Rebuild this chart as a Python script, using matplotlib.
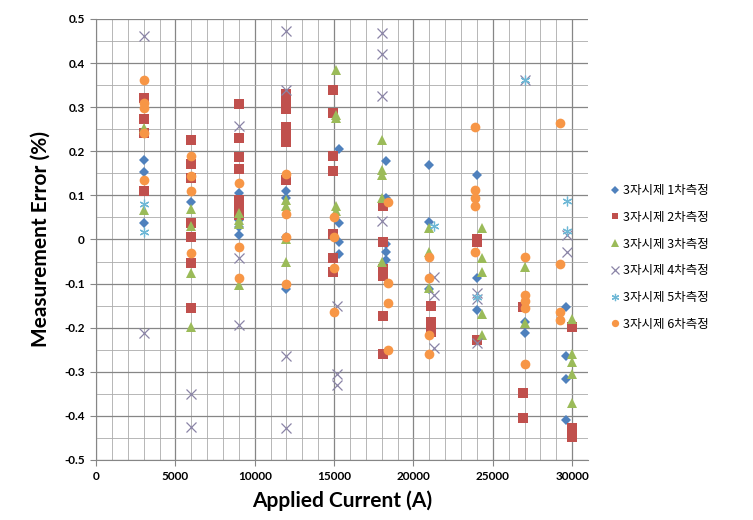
import matplotlib
matplotlib.use("Agg")
import matplotlib.pyplot as plt
from matplotlib.ticker import MultipleLocator, FixedLocator

# ---------------- data ----------------
labels = ["3자시제 1차측정", "3자시제 2차측정", "3자시제 3차측정",
          "3자시제 4차측정", "3자시제 5차측정", "3자시제 6차측정"]

s1_x = [3000]*3 + [6000]*2 + [9000]*5 + [12000]*4 + [15300]*4 + [18300]*5 + [21000]*3 + [24000]*3 + [27000]*2 + [29600]*4
s1_y = [0.181, 0.154, 0.037,
        0.084, 0.030,
        0.106, 0.085, 0.045, 0.029, 0.010,
        0.110, 0.095, 0.005, -0.113,
        0.205, 0.037, -0.005, -0.033,
        0.179, 0.094, -0.010, -0.028, -0.047,
        0.169, 0.040, -0.113,
        0.147, -0.088, -0.159,
        -0.187, -0.212,
        -0.154, -0.264, -0.316, -0.409]

s2_x = [3000]*4 + [6000]*7 + [9000]*7 + [12000]*7 + [14900]*7 + [18100]*6 + [21100]*3 + [24000]*3 + [26900]*3 + [30000]*3
s2_y = [0.321, 0.274, 0.241, 0.110,
        0.225, 0.172, 0.140, 0.037, 0.006, -0.053, -0.155,
        0.307, 0.230, 0.188, 0.160, 0.090, 0.070, 0.055,
        0.330, 0.310, 0.295, 0.255, 0.235, 0.220, 0.135,
        0.340, 0.287, 0.190, 0.156, 0.012, -0.043, -0.073,
        0.076, -0.005, -0.067, -0.083, -0.174, -0.260,
        -0.151, -0.187, -0.210,
        0.000, -0.005, -0.227,
        -0.154, -0.347, -0.405,
        -0.198, -0.428, -0.448]

s3_x = [3000]*2 + [6000]*4 + [9000]*4 + [12000]*4 + [15100]*5 + [18000]*5 + [21000]*3 + [24300]*5 + [27000]*2 + [30000]*5
s3_y = [0.253, 0.067,
        0.069, 0.030, -0.077, -0.198,
        0.060, 0.045, 0.035, -0.103,
        0.090, 0.075, 0.000, -0.050,
        0.385, 0.283, 0.275, 0.075, 0.065,
        0.226, 0.158, 0.147, 0.094, -0.050,
        0.025, -0.028, -0.111,
        0.025, -0.043, -0.073, -0.168, -0.217,
        -0.062, -0.190,
        -0.180, -0.259, -0.278, -0.304, -0.371]

s4_x = [3000]*2 + [6000]*2 + [9000]*3 + [12000]*4 + [15200]*3 + [18000]*4 + [21300]*3 + [24000]*3 + [27000] + [29700]*2
s4_y = [0.461, -0.212,
        -0.350, -0.425,
        0.258, -0.043, -0.194,
        0.472, 0.340, -0.265, -0.427,
        -0.150, -0.304, -0.331,
        0.469, 0.421, 0.325, 0.043,
        -0.085, -0.125, -0.247,
        -0.122, -0.134, -0.235,
        0.362,
        0.010, -0.028]

s5_x = [3000]*2 + [21300, 24000, 27000, 29700, 29700]
s5_y = [0.080, 0.017, 0.030, -0.130, 0.362, 0.088, 0.020]

s6_x = [3000]*5 + [6000]*4 + [9000]*3 + [12000]*4 + [15000]*4 + [18400]*4 + [21000]*4 + [23900]*5 + [27000]*5 + [29200]*4
s6_y = [0.361, 0.310, 0.298, 0.241, 0.135,
        0.190, 0.143, 0.109, -0.031,
        0.128, -0.016, -0.088,
        0.148, 0.057, 0.006, -0.100,
        0.052, 0.006, -0.065, -0.164,
        0.084, -0.098, -0.144, -0.251,
        -0.040, -0.088, -0.217, -0.259,
        0.254, 0.113, 0.094, 0.075, -0.028,
        -0.040, -0.125, -0.140, -0.155, -0.283,
        0.264, -0.056, -0.164, -0.183]

x_ticks = [0, 5000, 10000, 15000, 20000, 25000, 30000]
y_ticks = [-0.5, -0.4, -0.3, -0.2, -0.1, 0, 0.1, 0.2, 0.3, 0.4, 0.5]
y_tick_labels = ["-0.5", "-0.4", "-0.3", "-0.2", "-0.1", "0", "0.1", "0.2", "0.3", "0.4", "0.5"]

# ---------------- plot ----------------
plt.rcParams['font.family'] = ['Lato', 'Noto Sans CJK KR', 'DejaVu Sans']

fig = plt.figure(figsize=(7.53, 5.20), dpi=100)
ax = fig.add_axes([0.1275, 0.1154, 0.6535, 0.8481])

series = [
    (s1_x, s1_y, dict(marker='D', color='#4F81BD', markersize=5.2, markeredgewidth=0)),
    (s2_x, s2_y, dict(marker='s', color='#C0504D', markersize=6.5, markeredgewidth=0)),
    (s3_x, s3_y, dict(marker='^', color='#9BBB59', markersize=7, markeredgewidth=0)),
    (s4_x, s4_y, dict(marker='x', color='#8A84A6', markersize=7.5, markeredgewidth=0.9)),
    (s5_x, s5_y, dict(marker=(6, 2, 0), color='#6FB8D6', markersize=7, markeredgewidth=0.9)),
    (s6_x, s6_y, dict(marker='o', color='#F79646', markersize=7, markeredgewidth=0)),
]
for (xs, ys, st), lab in zip(series, labels):
    ax.plot(xs, ys, linestyle='none', label=lab, zorder=3, **st)

ax.set_xlim(0, 31000)
ax.set_ylim(-0.5, 0.5)
ax.xaxis.set_major_locator(FixedLocator(x_ticks))
ax.xaxis.set_minor_locator(MultipleLocator(1000))
ax.yaxis.set_major_locator(FixedLocator(y_ticks))
ax.yaxis.set_minor_locator(MultipleLocator(0.05))
ax.set_yticklabels(y_tick_labels)
ax.set_xticklabels([str(v) for v in x_ticks])

ax.grid(which='major', color='#868686', linewidth=0.9, zorder=0)
ax.grid(which='minor', color='#ABABAB', linewidth=0.6, zorder=0)
ax.set_axisbelow(True)

for s in ['top', 'right']:
    ax.spines[s].set_visible(False)
ax.spines['left'].set_color('#868686')
ax.spines['bottom'].set_color('#868686')

ax.tick_params(which='major', length=4, color='#868686', labelsize=8.5, pad=4)
ax.tick_params(which='minor', length=0)
for lbl in ax.get_xticklabels() + ax.get_yticklabels():
    lbl.set_fontweight('bold')

ax.set_xlabel('Applied Current (A)', fontsize=15, fontweight='bold', labelpad=6)
ax.set_ylabel('Measurement Error (%)', fontsize=15, fontweight='bold', labelpad=10)

leg = fig.legend(loc='center left', bbox_to_anchor=(0.797, 0.505), frameon=False,
                 handlelength=0.6, handletextpad=0.3,
                 labelspacing=1.1, markerscale=0.75,
                 prop={'family': ['Noto Sans CJK KR', 'DejaVu Sans'], 'size': 9})

fig.savefig('out.png', dpi=100)
